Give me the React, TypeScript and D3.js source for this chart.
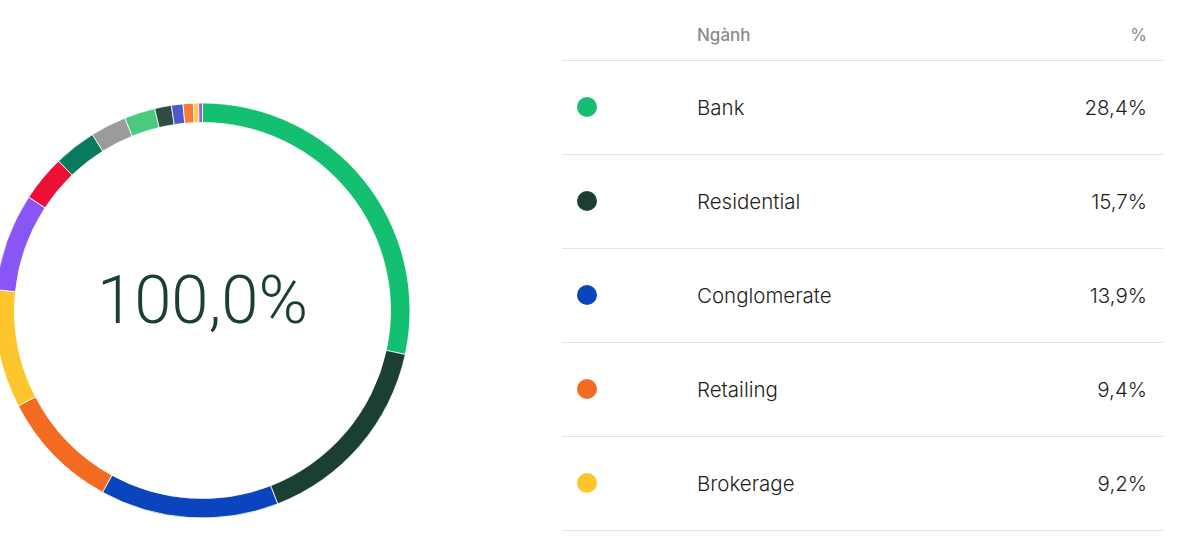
import React from 'react';
import * as d3 from 'd3';

// sector shares (%), clockwise from 12 o'clock
const sectors = [
  'Bank', 'Residential', 'Conglomerate', 'Retailing', 'Brokerage',
  'Steel', 'Oil & Gas', 'Food', 'Insurance', 'Utilities',
  'Industrial Park', 'Technology', 'Construction', 'Chemicals', 'Other',
];
const shares = [28.4, 15.7, 13.9, 9.4, 9.2, 7.6, 3.6, 3.3, 2.8, 2.4, 1.3, 0.9, 0.8, 0.4, 0.3];
const colors = [
  '#13bf70', '#1b3f34', '#0a45bd', '#f36b21', '#fcc62c',
  '#8a55f5', '#ee0f36', '#0a7a5e', '#9b9b9b', '#4cc97f',
  '#2f4b43', '#4e5bd0', '#f57c3c', '#ffc94a', '#a35ad6',
];
const header = ['Ngành', '%'];
const totalLabel = '100,0%';

const W = 1200;
const H = 559;

const fmt = (v: number) => v.toFixed(1).replace('.', ',') + '%';

export default function App() {
  const data = sectors.map((name, i) => ({ name, value: shares[i], color: colors[i] }));

  const pie = d3.pie<{ name: string; value: number; color: string }>()
    .value(d => d.value)
    .sort(null);
  const arc = d3.arc<d3.PieArcDatum<{ name: string; value: number; color: string }>>()
    .innerRadius(188)
    .outerRadius(207.5);
  const arcs = pie(data);

  // table rows, only those that fit in the frame are visible
  const rowY = d3.scaleLinear().domain([0, 1]).range([60, 154]);
  const tableLeft = 562;
  const tableRight = 1163;
  const rows = data.filter((_, i) => rowY(i + 1) < H);

  return (
    <svg width={W} height={H} style={{ position: 'absolute', left: 0, top: 0, background: '#fff' }}>
      <g transform="translate(202.5,310.5)">
        {arcs.map((a, i) => (
          <path key={i} d={arc(a) || ''} fill={a.data.color} stroke="#fff" strokeWidth={0.8} />
        ))}
        <text
          x={0}
          y={12}
          textAnchor="middle"
          fontFamily="Roboto, sans-serif"
          fontWeight={300}
          fontSize={67}
          fill="#1b3f34"
        >
          {totalLabel}
        </text>
      </g>

      <g fontFamily="Inter, 'Noto Sans', sans-serif">
        <text x={697} y={41} fontSize={17} fill="#8a8a8a" fontWeight={500}>{header[0]}</text>
        <text x={1147} y={41} fontSize={17} fill="#8a8a8a" textAnchor="end">{header[1]}</text>
        <line x1={tableLeft} x2={tableRight} y1={60.5} y2={60.5} stroke="#e3e3e3" />
        {rows.map((d, i) => {
          const y0 = rowY(i);
          const y1 = rowY(i + 1);
          const cy = (y0 + y1) / 2;
          return (
            <g key={d.name}>
              <circle cx={587} cy={cy} r={10} fill={d.color} />
              <text x={697} y={cy + 7.5} fontSize={20.5} fontWeight={300} fill="#1e1e1e">{d.name}</text>
              <text x={1147} y={cy + 7.5} fontSize={20.5} fontWeight={300} fill="#1e1e1e" textAnchor="end">{fmt(d.value)}</text>
              <line x1={tableLeft} x2={tableRight} y1={y1 + 0.5} y2={y1 + 0.5} stroke="#e3e3e3" />
            </g>
          );
        })}
      </g>
    </svg>
  );
}
